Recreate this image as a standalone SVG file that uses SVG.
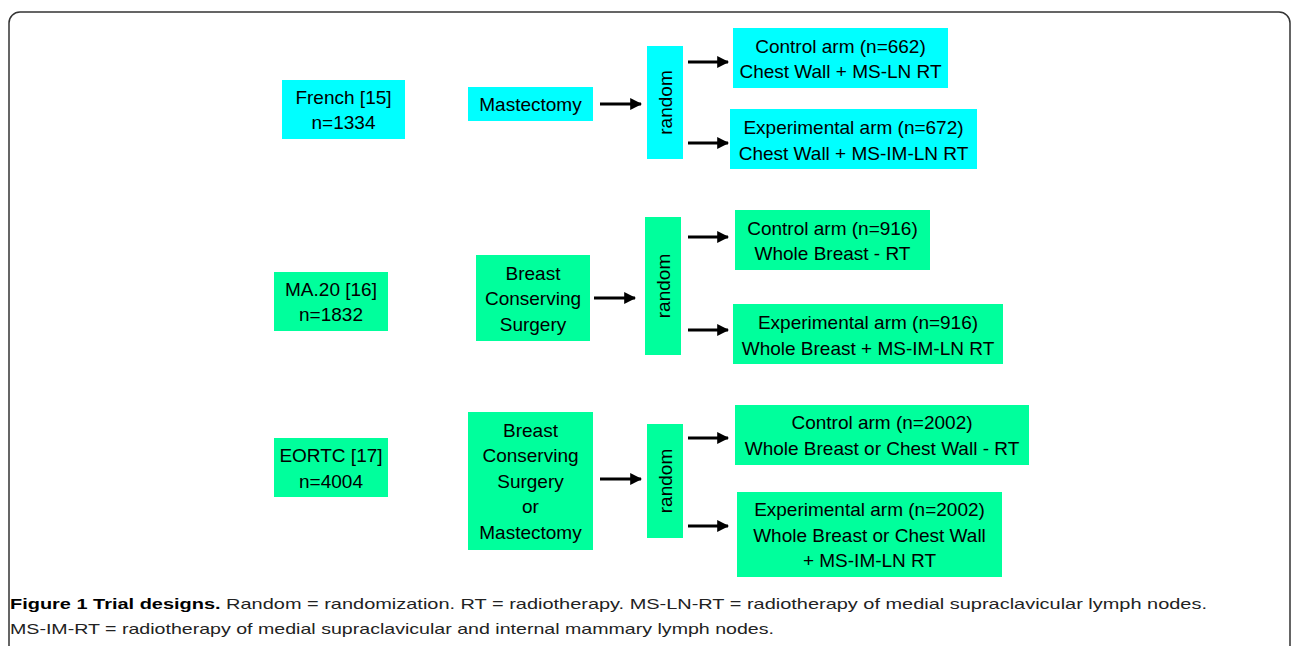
<svg xmlns="http://www.w3.org/2000/svg" width="1292" height="646" viewBox="0 0 1292 646">
<defs>
<style>
.t{font-family:"Liberation Sans",Arial,sans-serif;font-size:19px;fill:#000;text-anchor:middle}
.cy{fill:#00FFFF}
.gr{fill:#00FF9C}
.ar{stroke:#000;stroke-width:3;fill:none;marker-end:url(#ah)}
.cap{font-family:"Liberation Sans",Arial,sans-serif;font-size:15px;fill:#222}
</style>
<marker id="ah" viewBox="0 0 10 10" refX="9" refY="5" markerWidth="4" markerHeight="4" orient="auto" markerUnits="strokeWidth">
<path d="M0,0 L10,5 L0,10 z" fill="#000"/>
</marker>
</defs>
<rect width="1292" height="646" fill="#fff"/>
<rect x="9" y="12" width="1281" height="700" rx="11" fill="none" stroke="#333" stroke-width="1.5"/>

<g id="french"><rect class="cy" x="282" y="80" width="123" height="59"/><text class="t" x="343.5" y="104">French [15]</text><text class="t" x="343.5" y="129">n=1334</text></g>
<g id="mastectomy"><rect class="cy" x="468" y="87" width="125" height="34"/><text class="t" x="530.5" y="111">Mastectomy</text></g>
<g id="random1"><rect class="cy" x="647" y="46" width="36" height="113"/><text class="t" transform="translate(672,102.5) rotate(-90)">random</text></g>
<g id="control1"><rect class="cy" x="733" y="28" width="215" height="60"/><text class="t" x="840.5" y="53">Control arm (n=662)</text><text class="t" x="840.5" y="78">Chest Wall + MS-LN RT</text></g>
<g id="exp1"><rect class="cy" x="730" y="109" width="247" height="60"/><text class="t" x="853.5" y="134">Experimental arm (n=672)</text><text class="t" x="853.5" y="160">Chest Wall + MS-IM-LN RT</text></g>

<g id="ma20"><rect class="gr" x="274" y="272" width="114" height="59"/><text class="t" x="331" y="296">MA.20 [16]</text><text class="t" x="331" y="321">n=1832</text></g>
<g id="bcs2"><rect class="gr" x="476" y="255" width="114" height="86"/><text class="t" x="533" y="280">Breast</text><text class="t" x="533" y="305">Conserving</text><text class="t" x="533" y="331">Surgery</text></g>
<g id="random2"><rect class="gr" x="645" y="217" width="36" height="138"/><text class="t" transform="translate(670,286) rotate(-90)">random</text></g>
<g id="control2"><rect class="gr" x="735" y="210" width="195" height="60"/><text class="t" x="832.5" y="235">Control arm (n=916)</text><text class="t" x="832.5" y="260">Whole Breast - RT</text></g>
<g id="exp2"><rect class="gr" x="733" y="304" width="270" height="60"/><text class="t" x="868" y="329">Experimental arm (n=916)</text><text class="t" x="868" y="355">Whole Breast + MS-IM-LN RT</text></g>

<g id="eortc"><rect class="gr" x="274" y="438" width="114" height="59"/><text class="t" x="331" y="462">EORTC [17]</text><text class="t" x="331" y="488">n=4004</text></g>
<g id="bcs3"><rect class="gr" x="468" y="412" width="125" height="138"/><text class="t" x="530.5" y="437">Breast</text><text class="t" x="530.5" y="462">Conserving</text><text class="t" x="530.5" y="488">Surgery</text><text class="t" x="530.5" y="513">or</text><text class="t" x="530.5" y="539">Mastectomy</text></g>
<g id="random3"><rect class="gr" x="647" y="424" width="36" height="114"/><text class="t" transform="translate(672,481) rotate(-90)">random</text></g>
<g id="control3"><rect class="gr" x="735" y="405" width="294" height="60"/><text class="t" x="882" y="429">Control arm (n=2002)</text><text class="t" x="882" y="455">Whole Breast or Chest Wall - RT</text></g>
<g id="exp3"><rect class="gr" x="737" y="492" width="265" height="85"/><text class="t" x="869.5" y="516">Experimental arm (n=2002)</text><text class="t" x="869.5" y="542">Whole Breast or Chest Wall</text><text class="t" x="869.5" y="567">+ MS-IM-LN RT</text></g>

<g id="connectors">
<line class="ar" x1="600" y1="104" x2="641" y2="104"/>
<line class="ar" x1="688" y1="62" x2="728" y2="62"/>
<line class="ar" x1="688" y1="143" x2="728" y2="143"/>
<line class="ar" x1="594" y1="298" x2="635" y2="298"/>
<line class="ar" x1="688" y1="237" x2="728" y2="237"/>
<line class="ar" x1="688" y1="330" x2="728" y2="330"/>
<line class="ar" x1="600" y1="479" x2="641" y2="479"/>
<line class="ar" x1="688" y1="438" x2="728" y2="438"/>
<line class="ar" x1="688" y1="526" x2="728" y2="526"/>
</g>

<g id="caption">
<text class="cap" x="10" y="609" textLength="1197" lengthAdjust="spacingAndGlyphs"><tspan font-weight="bold" fill="#000">Figure 1 Trial designs.</tspan> Random = randomization. RT = radiotherapy. MS-LN-RT = radiotherapy of medial supraclavicular lymph nodes.</text>
<text class="cap" x="10" y="634" textLength="764" lengthAdjust="spacingAndGlyphs">MS-IM-RT = radiotherapy of medial supraclavicular and internal mammary lymph nodes.</text>
</g>
</svg>
